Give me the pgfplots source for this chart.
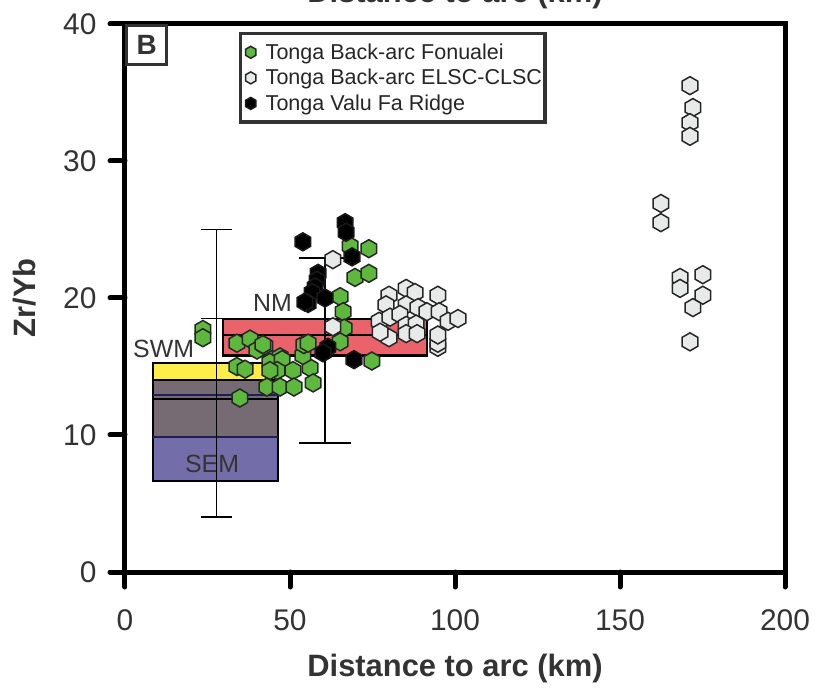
\documentclass[border=0pt]{standalone}
\usepackage{fontspec}
\setmainfont{Liberation Sans}
\usepackage{pgfplots}
\pgfplotsset{compat=1.18}
\definecolor{dgray}{HTML}{333333}
\definecolor{fgreen}{RGB}{93,184,61}
\definecolor{fwhite}{RGB}{232,234,234}
\definecolor{mborder}{HTML}{262626}
\definecolor{nmred}{RGB}{234,98,106}
\definecolor{swmyellow}{RGB}{255,238,74}
\definecolor{boxgray}{RGB}{118,106,115}
\definecolor{sempurple}{RGB}{115,110,170}
\definecolor{navy}{RGB}{30,30,90}
\pgfdeclareplotmark{hex}{%
  \pgfpathmoveto{\pgfqpointpolar{90}{\pgfplotmarksize}}%
  \pgfpathlineto{\pgfqpointpolar{150}{\pgfplotmarksize}}%
  \pgfpathlineto{\pgfqpointpolar{210}{\pgfplotmarksize}}%
  \pgfpathlineto{\pgfqpointpolar{270}{\pgfplotmarksize}}%
  \pgfpathlineto{\pgfqpointpolar{330}{\pgfplotmarksize}}%
  \pgfpathlineto{\pgfqpointpolar{30}{\pgfplotmarksize}}%
  \pgfpathclose
  \pgfusepathqfillstroke}
\pgfplotsset{hexleg/.style={legend image code/.code={%
  \path[draw=none, fill=none] (0bp,0bp) (22bp,0bp);
  \draw[##1] plot[mark size=6bp] coordinates {(9bp,0bp)};}}}
\begin{document}
\begin{tikzpicture}
\begin{axis}[
  scale only axis, width=660bp, height=548bp,
  xmin=0, xmax=200, ymin=0, ymax=40,
  xtick={0,50,...,200}, ytick={0,10,...,40},
  xtick pos=bottom, ytick pos=left,
  tick align=outside, major tick length=15bp,
  tick style={line width=5bp, black, line cap=round},
  axis line style={line width=5bp, black},
  /pgf/number format/assume math mode=true,
  tick label style={font=\fontsize{30}{35}\selectfont, text=dgray},
  xticklabel style={yshift=-19bp},
  yticklabel style={xshift=-10bp},
  xlabel={Distance to arc (km)}, ylabel={Zr/Yb},
  label style={font=\bfseries\fontsize{31}{36}\selectfont, text=dgray},
  xlabel style={at={(axis description cs:0.5,0)}, anchor=base, yshift=-104bp},
  ylabel style={at={(axis description cs:-0.1515,0.5)}, anchor=center},
  title={Distance to arc (km)},
  title style={at={(axis description cs:0.5,1)}, anchor=base, yshift=16bp, font=\bfseries\fontsize{31}{36}\selectfont, text=dgray},
  legend style={at={(axis description cs:0.1727,0.9854)}, anchor=north west,
    draw=dgray, line width=3.5bp, fill=white,
    font=\fontsize{21.6}{25}\selectfont, text=black!85,
    inner xsep=1bp, inner ysep=8bp, row sep=4.5bp, cells={anchor=west}},
]
% boxes
\addplot[forget plot, draw=black, line width=2.2bp, fill=swmyellow] coordinates {(8.5,14.0) (46.4,14.0) (46.4,15.26) (8.5,15.26)} -- cycle;
\addplot[forget plot, draw=black, line width=2.2bp, fill=boxgray] coordinates {(8.5,9.85) (46.4,9.85) (46.4,14.0) (8.5,14.0)} -- cycle;
\addplot[forget plot, draw=black, line width=2.2bp, fill=sempurple] coordinates {(8.5,6.65) (46.4,6.65) (46.4,9.85) (8.5,9.85)} -- cycle;
\addplot[forget plot, draw=navy, line width=1.8bp] coordinates {(8.5,9.85) (46.4,9.85)};
\addplot[forget plot, draw=navy, line width=1.8bp] coordinates {(8.5,12.9) (46.4,12.9)};
\addplot[forget plot, draw=black, line width=1.8bp] coordinates {(8.5,12.6) (46.4,12.6)};
\addplot[forget plot, draw=black, line width=2.2bp, fill=nmred] coordinates {(29.7,15.8) (91.5,15.8) (91.5,18.47) (29.7,18.47)} -- cycle;
\addplot[forget plot, draw=black, line width=1.8bp] coordinates {(29.7,17.3) (91.5,17.3)};
% labels
\node[font=\fontsize{25}{30}\selectfont, text=dgray] at (axis cs:11.7,16.3) {SWM};
\node[font=\fontsize{25}{30}\selectfont, text=dgray] at (axis cs:44.7,19.67) {NM};
\node[font=\fontsize{25}{30}\selectfont, text=dgray] at (axis cs:26.4,7.92) {SEM};
% whiskers
\addplot[forget plot, black, line width=1.8bp] coordinates {(27.7,4) (27.7,25)};
\addplot[forget plot, black, line width=1.8bp] coordinates {(23.1,25) (32.3,25)};
\addplot[forget plot, black, line width=1.8bp] coordinates {(23.1,18.5) (32.3,18.5)};
\addplot[forget plot, black, line width=1.8bp] coordinates {(23.1,6.65) (32.3,6.65)};
\addplot[forget plot, black, line width=1.8bp] coordinates {(23.1,4) (32.3,4)};
\addplot[forget plot, black, line width=1.8bp] coordinates {(60.6,9.4) (60.6,22.9)};
\addplot[forget plot, black, line width=1.8bp] coordinates {(52.6,22.9) (68.6,22.9)};
\addplot[forget plot, black, line width=1.8bp] coordinates {(52.6,9.4) (68.6,9.4)};
% data
\addplot[only marks, mark=hex, mark size=9bp, fill=fgreen, draw=mborder, line width=1.5bp, hexleg] coordinates {
(23.6,17.7) (23.6,17.1)
(33.9,16.7) (37.9,17.0) (40.0,16.2) (42.4,16.5) (44.5,15.5) (47.0,15.7) (41.8,16.6)
(33.9,15.0) (36.4,14.8) (43.9,15.3) (47.6,15.5) (46.1,14.7) (43.9,14.7) (50.9,14.7) (56.1,14.9) (53.9,15.8)
(43.0,13.5) (47.0,13.5) (51.2,13.5) (57.0,13.8)
(34.8,12.7)
(54.2,16.6) (55.5,16.7)
(68.2,23.8) (73.9,23.6) (69.7,21.5) (73.9,21.8)
(65.2,20.1) (66.1,19.0) (66.4,17.8) (65.2,16.8) (74.8,15.4)
};
\addlegendentry{Tonga Back-arc Fonualei}
\addplot[only marks, mark=hex, mark size=9bp, fill=fwhite, draw=mborder, line width=1.5bp, hexleg] coordinates {
(63.0,22.8) (85.2,20.7) (80.0,20.2) (87.9,20.4) (94.8,20.2) (85.2,19.5) (79.1,19.5) (88.8,19.3)
(91.5,19.0) (95.2,19.0) (77.0,18.3) (80.3,18.6) (83.3,18.8) (97.9,18.3) (100.9,18.5) (85.2,18.0)
(88.2,18.1) (63.0,17.9) (80.0,17.1) (85.2,17.4) (94.8,16.4) (94.8,16.7) (94.8,17.3) (77.3,17.5) (88.5,17.4)
(171.2,35.5) (172.1,33.9) (171.2,32.8) (171.2,31.8) (162.4,26.9) (162.4,25.5)
(168.2,21.5) (168.2,20.7) (175.1,21.7) (175.1,20.2) (172.1,19.3) (171.2,16.8)
};
\addlegendentry{Tonga Back-arc ELSC-CLSC}
\addplot[only marks, mark=hex, mark size=9bp, fill=black, draw=black!90, line width=1.5bp, hexleg] coordinates {
(53.9,24.1) (66.7,25.5) (67.0,24.8) (68.8,23.0) (58.5,21.8) (58.2,21.3) (57.6,20.8) (56.7,20.4)
(55.5,19.6) (54.5,19.7) (60.6,20.0) (61.5,16.4) (60.0,16.0) (69.4,15.5)
};
\addlegendentry{Tonga Valu Fa Ridge}
\node[draw=dgray, line width=3.5bp, fill=white, font=\bfseries\fontsize{28}{30}\selectfont, text=dgray,
  minimum width=40bp, minimum height=39bp, inner sep=0pt, anchor=north west] at (axis description cs:0,1) {B};
\end{axis}
\pgfresetboundingbox
\path[use as bounding box] (-125bp,-116bp) rectangle (692bp,572bp);
\end{tikzpicture}
\end{document}
